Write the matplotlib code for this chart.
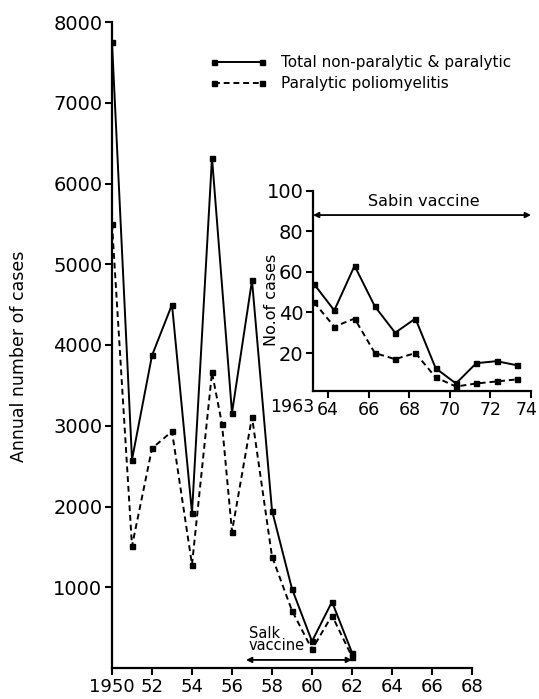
import matplotlib
matplotlib.use("Agg")
import matplotlib.pyplot as plt
from matplotlib.lines import Line2D
import matplotlib.transforms as mtransforms

# ---- data ----
years_total = [1950, 1951, 1952, 1953, 1954, 1955, 1956, 1957, 1958, 1959, 1960, 1961, 1962]
total_cases = [7750, 2580, 3870, 4500, 1920, 6320, 3160, 4800, 1950, 980, 330, 820, 190]

years_paralytic = [1950, 1951, 1952, 1953, 1954, 1955, 1955.5, 1956, 1957, 1958, 1959, 1960, 1961, 1962]
paralytic_cases = [5500, 1510, 2720, 2930, 1280, 3660, 3020, 1690, 3110, 1380, 710, 230, 650, 140]

inset_years = [1963, 1964, 1965, 1966, 1967, 1968, 1969, 1970, 1971, 1972, 1973]
inset_total = [54, 41, 63, 43, 30, 37, 12.5, 5, 15, 16, 14]
inset_paralytic = [45, 33, 37, 20, 17, 20, 8, 3.5, 5, 6, 7]
mid_year = 0.3

main_xticks = [1950, 1952, 1954, 1956, 1958, 1960, 1962, 1964, 1966, 1968]
main_xticklabels = ["1950", "52", "54", "56", "58", "60", "62", "64", "66", "68"]
main_yticks = [1000, 2000, 3000, 4000, 5000, 6000, 7000, 8000]
main_yticklabels = ["1000", "2000", "3000", "4000", "5000", "6000", "7000", "8000"]

inset_xticks = [1964, 1966, 1968, 1970, 1972, 1974]
inset_xticklabels = ["64", "66", "68", "70", "72", "74"]
inset_yticks = [20, 40, 60, 80, 100]
inset_yticklabels = ["20", "40", "60", "80", "100"]

legend_labels = ["Total non-paralytic & paralytic", "Paralytic poliomyelitis"]

salk_span = (1956.7, 1962.0)
sabin_span = (1963.25, 1974.0)

# ---- figure ----
plt.rcParams["font.family"] = ["DejaVu Sans"]
W, H = 539, 699
fig = plt.figure(figsize=(W / 100, H / 100), dpi=100)
fig.patch.set_facecolor("white")

LW = 1.4
DASH = (3, 2)
MS = 3.6

def style_axes(ax):
    for s in ("top", "right"):
        ax.spines[s].set_visible(False)
    for s in ("left", "bottom"):
        ax.spines[s].set_linewidth(1.6)
    ax.tick_params(direction="out", length=5, width=1.5, pad=2, colors="black")

# main axes
ax = fig.add_axes([112 / W, 1 - 668 / H, 360 / W, (668 - 22) / H])
style_axes(ax)
ax.plot(years_total, total_cases, color="black", lw=LW, marker="s", ms=MS)
ax.plot(years_paralytic, paralytic_cases, color="black", lw=LW, ls=(0, DASH), marker="s", ms=MS)
ax.set_xlim(1950, 1968)
ax.set_ylim(0, 8000)
ax.set_xticks(main_xticks)
ax.set_xticklabels(main_xticklabels, fontsize=13)
ax.set_yticks(main_yticks)
ax.set_yticklabels(main_yticklabels, fontsize=14)
ax.set_ylabel("Annual number of cases", fontsize=12.5)
ax.yaxis.set_label_coords((28 - 112) / 360, (668 - 356) / 646)

# legend
handles = [
    Line2D([], [], color="black", lw=LW, marker="s", ms=MS),
    Line2D([], [], color="black", lw=LW, ls=(0, DASH), marker="s", ms=MS),
]
ax.legend(handles, legend_labels, loc="upper left",
          bbox_to_anchor=(209 / W, 1 - 55 / H), bbox_transform=fig.transFigure,
          frameon=False, numpoints=2, handlelength=3.8, handletextpad=0.9,
          labelspacing=0.4, borderpad=0, borderaxespad=0, fontsize=11)

# Salk vaccine annotation
ax.annotate("", xy=(salk_span[0], 100), xytext=(salk_span[1], 100),
            arrowprops=dict(arrowstyle="<|-|>", color="black", lw=1.3,
                            mutation_scale=8, shrinkA=0, shrinkB=0))
ax.text(salk_span[0] + 0.15, 180, "Salk\nvaccine", ha="left", va="bottom",
        fontsize=10.5, linespacing=0.8)

# inset axes
axi = fig.add_axes([313 / W, 1 - 391 / H, (531 - 313) / W, (391 - 190.7) / H])
axi.patch.set_alpha(0)
style_axes(axi)
xs = [y + mid_year for y in inset_years]
axi.plot(xs, inset_total, color="black", lw=LW, marker="s", ms=MS)
axi.plot(xs, inset_paralytic, color="black", lw=LW, ls=(0, DASH), marker="s", ms=MS)
axi.set_xlim(sabin_span[0], 1974)
axi.set_ylim(1.3, 100)
axi.set_xticks(inset_xticks)
axi.set_xticklabels(inset_xticklabels, fontsize=12.5)
last = axi.get_xticklabels()[-1]
last.set_transform(last.get_transform() +
                   mtransforms.ScaledTranslation(-4 / 100, 0, fig.dpi_scale_trans))
axi.set_yticks(inset_yticks)
axi.set_yticklabels(inset_yticklabels, fontsize=14)
trans = mtransforms.blended_transform_factory(axi.transData, axi.transAxes)
axi.text(sabin_span[0] + 0.05, -0.035, "1963", transform=trans, ha="right", va="top", fontsize=12.5)
axi.set_ylabel("No.of cases", fontsize=11.5)
axi.yaxis.set_label_coords((279 - 313) / 218, (391 - 300) / 200.3)

# Sabin vaccine annotation
axi.annotate("", xy=(sabin_span[0], 88), xytext=(sabin_span[1], 88),
             arrowprops=dict(arrowstyle="<|-|>", color="black", lw=1.3,
                             mutation_scale=8, shrinkA=0, shrinkB=0),
             annotation_clip=False)
axi.text(1968.7, 91, "Sabin vaccine", ha="center", va="bottom", fontsize=11.5)

fig.savefig("out.png", dpi=100, facecolor="white")
